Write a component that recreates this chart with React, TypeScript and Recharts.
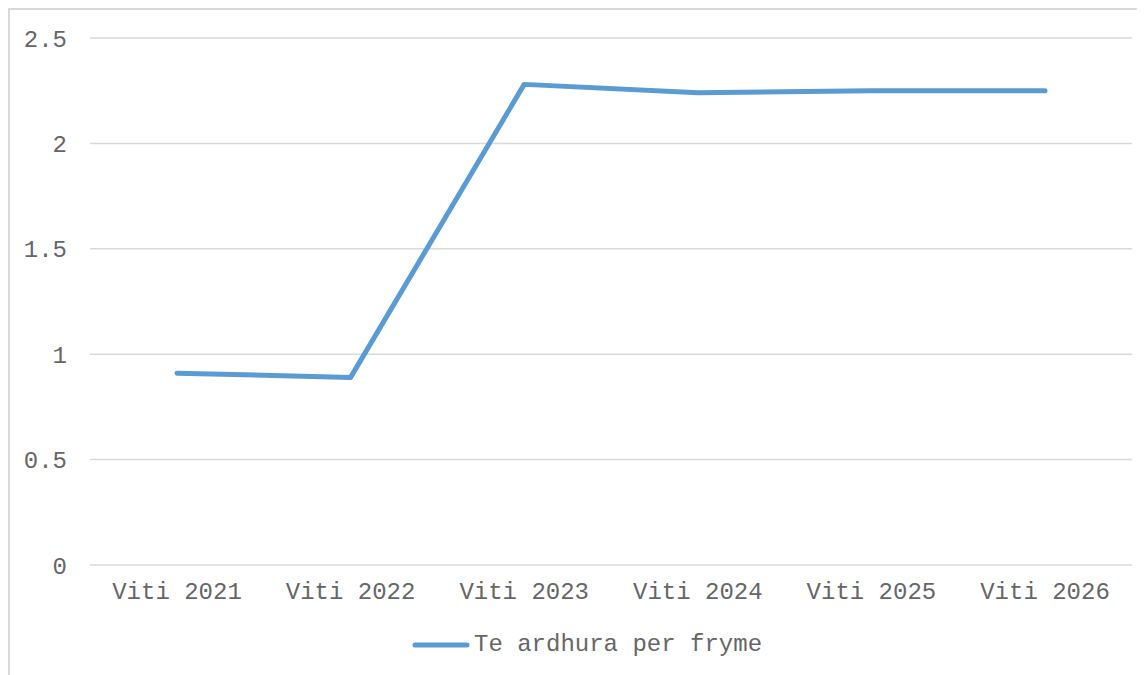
import { LineChart, Line, XAxis, YAxis, CartesianGrid } from 'recharts'

const categories = ['Viti 2021', 'Viti 2022', 'Viti 2023', 'Viti 2024', 'Viti 2025', 'Viti 2026']
const income = [0.91, 0.89, 2.28, 2.24, 2.25, 2.25]
const yTicks = [0, 0.5, 1, 1.5, 2, 2.5]
const seriesName = 'Te ardhura per fryme'

const BLUE = '#5b9bd5'
const GRID = '#d9d9d9'
const TEXT = '#666666'
const FONT = "'Courier New', 'Liberation Mono', monospace"

const data = categories.map((c, i) => ({ cat: c, value: income[i] }))

function LegendBox() {
  return (
    <div style={{
      position: 'absolute', top: 621, left: 402,
      display: 'flex', alignItems: 'center', fontFamily: FONT, fontSize: 24, color: TEXT,
    }}>
      <svg width={58} height={10} style={{ marginRight: 4 }}>
        <line x1={3} y1={5} x2={55} y2={5} stroke={BLUE} strokeWidth={5} strokeLinecap="round" />
      </svg>
      <span>{seriesName}</span>
    </div>
  )
}

export default function App() {
  return (
    <div style={{
      position: 'relative',
      width: 1137, height: 667, boxSizing: 'border-box',
      borderTop: `2px solid ${GRID}`, borderLeft: `2px solid ${GRID}`,
      overflow: 'hidden', background: '#fff',
    }}>
      <LineChart width={1135} height={665} data={data}
        margin={{ top: 28, right: 13, left: 0, bottom: 0 }}>
        <CartesianGrid vertical={false} stroke={GRID} strokeWidth={1.5} />
        <XAxis
          dataKey="cat"
          axisLine={false}
          tickLine={false}
          tickSize={0}
          tickMargin={17}
          height={110}
          interval={0}
          padding={{ left: 87, right: 87 }}
          tick={{ fill: TEXT, fontSize: 24, fontFamily: FONT }}
        />
        <YAxis
          domain={[0, 2.5]}
          ticks={yTicks}
          axisLine={false}
          tickLine={false}
          tickSize={0}
          tickMargin={23}
          width={80}
          tick={{ fill: TEXT, fontSize: 24, fontFamily: FONT }}
        />
        <Line
          type="linear"
          dataKey="value"
          name={seriesName}
          stroke={BLUE}
          strokeWidth={5}
          strokeLinecap="round"
          strokeLinejoin="round"
          dot={false}
          activeDot={false}
          isAnimationActive={false}
        />
      </LineChart>
      <LegendBox />
    </div>
  )
}
